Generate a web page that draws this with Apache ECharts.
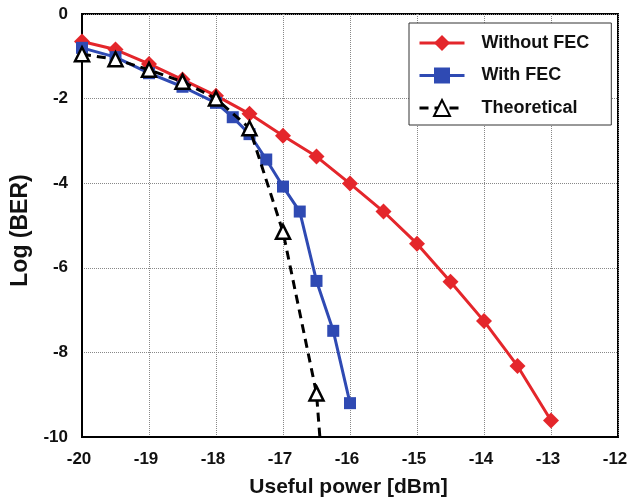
<!DOCTYPE html>
<html><head><meta charset="utf-8">
<script src="https://cdn.jsdelivr.net/npm/echarts@6/dist/echarts.min.js"></script>
<style>html,body{margin:0;padding:0;background:#fff}#c{width:627px;height:503px}</style>
</head><body><div id="c"></div>
<script>
const withoutFecX = [-20,-19.5,-19,-18.5,-18,-17.5,-17,-16.5,-16,-15.5,-15,-14.5,-14,-13.5,-13];
const withoutFecY = [-0.65,-0.84,-1.18,-1.55,-1.93,-2.36,-2.88,-3.37,-4.01,-4.67,-5.43,-6.33,-7.26,-8.32,-9.61];
const withFecX = [-20,-19.5,-19,-18.5,-18,-17.75,-17.5,-17.25,-17,-16.75,-16.5,-16.25,-16];
const withFecY = [-0.8,-1.02,-1.4,-1.72,-2.1,-2.44,-2.84,-3.44,-4.08,-4.67,-6.31,-7.49,-9.2];
const theoX = [-20,-19.5,-19,-18.5,-18,-17.5,-17,-16.5,-16.25];
const theoY = [-0.95,-1.07,-1.32,-1.6,-2.0,-2.7,-5.15,-8.97,-14.1];
const xTicks = [-20,-19,-18,-17,-16,-15,-14,-13,-12];
const yTicks = [0,-2,-4,-6,-8,-10];

const pairs = (xs, ys) => xs.map((x, i) => [x, ys[i]]);
const font = '"Liberation Sans", Arial, sans-serif';

const chart = echarts.init(document.getElementById('c'), null, {renderer: 'canvas'});
chart.setOption({
  backgroundColor: '#fff',
  animation: false,
  grid: {left: 82, right: 9, top: 14, bottom: 66, show: true, borderColor: '#000', borderWidth: 2,
         containLabel: false, outerBoundsMode: 'none'},
  legend: {
    left: 409, top: 23, orient: 'vertical',
    backgroundColor: '#fff', borderColor: '#333', borderWidth: 1,
    padding: [11, 22, 8, 9], itemGap: 14.5, itemWidth: 45, itemHeight: 20,
    lineStyle: {width: 3},
    textStyle: {fontFamily: font, fontWeight: 'bold', fontSize: 18, color: '#111', padding: [0, 0, 0, 12]},
    data: ['Without FEC', 'With FEC', 'Theoretical']
  },
  xAxis: {
    type: 'value', min: xTicks[0], max: xTicks[xTicks.length - 1], interval: 1,
    name: 'Useful power [dBm]', nameLocation: 'middle', nameGap: 40,
    nameTextStyle: {fontFamily: font, fontWeight: 'bold', fontSize: 21, color: '#111', padding: [0, 3, 0, 0]},
    axisLine: {onZero: false, lineStyle: {color: '#000', width: 2}},
    axisTick: {show: false},
    axisLabel: {fontFamily: font, fontWeight: 'bold', fontSize: 17, color: '#111', margin: 14, padding: [0, 6, 0, 0]},
    splitLine: {show: true, lineStyle: {type: 'dotted', color: '#888', width: 1}}
  },
  yAxis: {
    type: 'value', min: yTicks[yTicks.length - 1], max: yTicks[0], interval: 2,
    name: 'Log (BER)', nameLocation: 'middle', nameGap: 50,
    nameTextStyle: {fontFamily: font, fontWeight: 'bold', fontSize: 23, color: '#111', padding: [0, 10, 0, 0]},
    axisLine: {onZero: false, lineStyle: {color: '#000', width: 2}},
    axisTick: {show: false},
    axisLabel: {fontFamily: font, fontWeight: 'bold', fontSize: 17, color: '#111', margin: 14},
    splitLine: {show: true, lineStyle: {type: 'dotted', color: '#888', width: 1}}
  },
  series: [
    {name: 'Without FEC', type: 'line', data: pairs(withoutFecX, withoutFecY), clip: true,
     symbol: 'diamond', symbolSize: 16, color: '#e4262b',
     lineStyle: {color: '#e4262b', width: 3}, itemStyle: {color: '#e4262b'}, z: 3},
    {name: 'With FEC', type: 'line', data: pairs(withFecX, withFecY), clip: true,
     symbol: 'rect', symbolSize: 12, color: '#2f4ab3',
     lineStyle: {color: '#2f4ab3', width: 3}, itemStyle: {color: '#2f4ab3'}, z: 4},
    {name: 'Theoretical', type: 'line', data: pairs(theoX, theoY), clip: true,
     symbol: 'triangle', symbolSize: 14, color: '#000',
     lineStyle: {color: '#000', width: 3, type: [9, 6]},
     itemStyle: {color: '#fff', borderColor: '#000', borderWidth: 2.5}, z: 5}
  ]
});
</script></body></html>
